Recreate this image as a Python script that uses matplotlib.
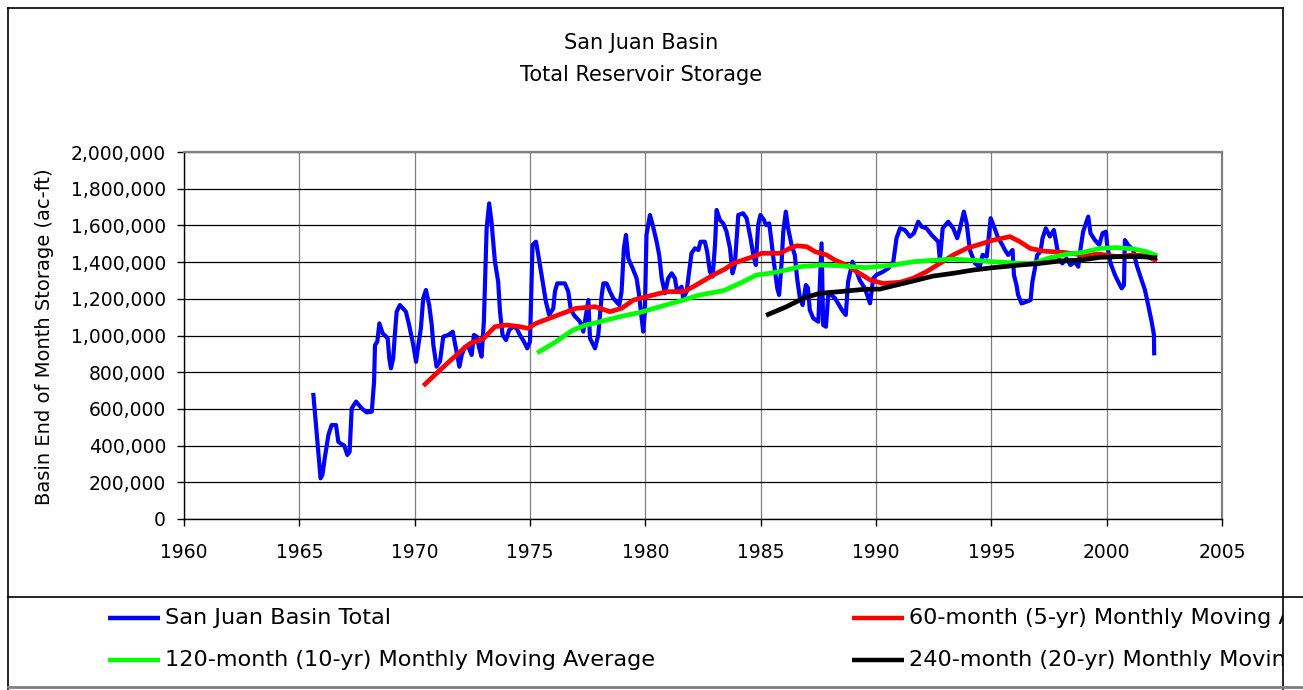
import numpy as np
import matplotlib
matplotlib.use('Agg')
import matplotlib.pyplot as plt
from matplotlib.lines import Line2D
from matplotlib.ticker import FuncFormatter

plt.rcParams['font.family'] = ['DejaVu Sans']

# San Juan Basin total storage (decimal year, thousand ac-ft)
total_yr = [1965.61, 1965.92, 1966.00, 1966.10, 1966.26, 1966.40, 1966.59, 1966.69, 1966.83, 1966.95,
            1967.08, 1967.18, 1967.27, 1967.46, 1967.70, 1967.92, 1968.14, 1968.24, 1968.28, 1968.38,
            1968.47, 1968.61, 1968.83, 1968.90, 1968.97, 1969.07, 1969.14, 1969.22, 1969.36, 1969.62,
            1969.76, 1969.94, 1970.06, 1970.16, 1970.27, 1970.37, 1970.49, 1970.63, 1970.74, 1970.81,
            1970.95, 1971.10, 1971.24, 1971.46, 1971.65, 1971.79, 1971.94, 1972.04, 1972.18, 1972.33,
            1972.47, 1972.57, 1972.69, 1972.80, 1972.90, 1973.00, 1973.12, 1973.23, 1973.33, 1973.48,
            1973.62, 1973.70, 1973.81, 1973.96, 1974.10, 1974.27, 1974.42, 1974.56, 1974.74, 1974.88,
            1975.00, 1975.11, 1975.26, 1975.36, 1975.50, 1975.69, 1975.83, 1976.01, 1976.08, 1976.18,
            1976.51, 1976.66, 1976.76, 1976.90, 1977.17, 1977.31, 1977.53, 1977.60, 1977.82, 1977.96,
            1978.11, 1978.18, 1978.32, 1978.47, 1978.61, 1978.87, 1978.97, 1979.07, 1979.16, 1979.26,
            1979.45, 1979.62, 1979.73, 1979.84, 1979.91, 1979.98, 1980.05, 1980.20, 1980.32, 1980.49,
            1980.60, 1980.71, 1980.85, 1980.99, 1981.14, 1981.28, 1981.38, 1981.57, 1981.64, 1981.79,
            1981.90, 1982.00, 1982.15, 1982.30, 1982.39, 1982.58, 1982.68, 1982.80, 1982.92, 1983.02,
            1983.09, 1983.23, 1983.38, 1983.52, 1983.67, 1983.78, 1983.88, 1984.03, 1984.24, 1984.39,
            1984.56, 1984.68, 1984.79, 1984.89, 1984.99, 1985.14, 1985.23, 1985.37, 1985.47, 1985.57,
            1985.72, 1985.80, 1985.91, 1985.98, 1986.09, 1986.19, 1986.34, 1986.48, 1986.58, 1986.70,
            1986.82, 1986.96, 1987.05, 1987.13, 1987.28, 1987.50, 1987.64, 1987.71, 1987.83, 1987.93,
            1988.07, 1988.22, 1988.40, 1988.57, 1988.69, 1988.79, 1988.98, 1989.16, 1989.30, 1989.52,
            1989.74, 1989.88, 1990.02, 1990.31, 1990.53, 1990.75, 1990.89, 1991.04, 1991.25, 1991.47,
            1991.64, 1991.83, 1991.98, 1992.19, 1992.41, 1992.70, 1992.77, 1992.89, 1993.13, 1993.35,
            1993.52, 1993.64, 1993.81, 1993.93, 1994.07, 1994.29, 1994.50, 1994.62, 1994.80, 1994.97,
            1995.09, 1995.30, 1995.45, 1995.59, 1995.73, 1995.92, 1995.98, 1996.09, 1996.16, 1996.31,
            1996.52, 1996.70, 1996.78, 1996.89, 1996.99, 1997.13, 1997.22, 1997.36, 1997.54, 1997.71,
            1997.83, 1997.94, 1998.08, 1998.26, 1998.43, 1998.62, 1998.77, 1998.87, 1998.98, 1999.10,
            1999.20, 1999.30, 1999.49, 1999.68, 1999.82, 1999.97, 2000.02, 2000.17, 2000.36, 2000.50,
            2000.65, 2000.75, 2000.79, 2000.93, 2001.15, 2001.30, 2001.44, 2001.66, 2001.80, 2001.95,
            2002.05, 2002.06]
total_val = [676, 222, 240, 330, 458, 512, 512, 421, 408, 400,
             349, 366, 603, 640, 603, 581, 585, 748, 948, 966,
             1066, 1012, 985, 876, 821, 876, 1003, 1130, 1166, 1130,
             1057, 948, 857, 948, 1039, 1203, 1248, 1166, 1057, 948,
             830, 860, 994, 1003, 1021, 930, 830, 894, 939, 939,
             894, 1003, 994, 930, 885, 1075, 1584, 1720, 1620, 1402,
             1293, 1130, 1003, 975, 1030, 1048, 1039, 1003, 966, 930,
             966, 1493, 1511, 1439, 1330, 1184, 1112, 1148, 1239, 1284,
             1284, 1239, 1148, 1112, 1075, 1021, 1193, 985, 930, 1003,
             1221, 1284, 1284, 1239, 1203, 1166, 1239, 1475, 1548, 1420,
             1366, 1312, 1221, 1094, 1021, 1130, 1548, 1657, 1602, 1511,
             1439, 1312, 1230, 1312, 1339, 1312, 1239, 1266, 1203, 1239,
             1348, 1448, 1475, 1466, 1511, 1511, 1457, 1348, 1321, 1493,
             1684, 1630, 1610, 1566, 1475, 1339, 1384, 1657, 1666, 1639,
             1530, 1439, 1384, 1602, 1657, 1630, 1602, 1611, 1511, 1402,
             1257, 1221, 1402, 1566, 1675, 1584, 1493, 1439, 1312, 1203,
             1166, 1275, 1260, 1139, 1094, 1075, 1502, 1057, 1048, 1221,
             1221, 1203, 1166, 1130, 1112, 1293, 1402, 1348, 1300, 1257,
             1175, 1312, 1330, 1348, 1366, 1402, 1530, 1584, 1575, 1539,
             1557, 1620, 1593, 1584, 1548, 1511, 1411, 1584, 1620, 1584,
             1530, 1584, 1675, 1611, 1466, 1393, 1375, 1439, 1430, 1639,
             1602, 1530, 1500, 1466, 1439, 1466, 1330, 1275, 1221, 1175,
             1184, 1193, 1293, 1366, 1439, 1457, 1530, 1584, 1539, 1575,
             1493, 1411, 1393, 1420, 1384, 1402, 1375, 1475, 1566, 1611,
             1648, 1557, 1520, 1493, 1557, 1566, 1493, 1393, 1330, 1293,
             1257, 1275, 1520, 1493, 1466, 1384, 1330, 1248, 1166, 1075,
             1003, 903]

# 60-month moving average
ma60_yr = [1970.45, 1971.10, 1971.97, 1972.40, 1972.98, 1973.48, 1973.98, 1974.56, 1974.90, 1975.26,
           1975.84, 1976.42, 1977.00, 1977.82, 1978.47, 1978.97, 1979.48, 1980.35, 1980.93, 1981.65,
           1982.08, 1982.95, 1983.45, 1983.81, 1984.68, 1985.04, 1985.83, 1986.27, 1986.56, 1987.00,
           1987.36, 1987.86, 1988.22, 1988.72, 1989.16, 1989.52, 1989.74, 1990.31, 1991.04, 1991.61,
           1992.19, 1992.77, 1993.35, 1993.93, 1994.50, 1995.09, 1995.81, 1996.24, 1996.68, 1997.25,
           1998.12, 1998.98, 1999.71, 2000.43, 2001.15, 2001.73, 2002.09]
ma60_val = [735, 812, 912, 957, 983, 1048, 1057, 1048, 1039, 1066,
            1094, 1121, 1148, 1157, 1130, 1148, 1193, 1221, 1239, 1239,
            1266, 1330, 1362, 1393, 1430, 1448, 1448, 1475, 1489, 1484,
            1457, 1439, 1411, 1384, 1348, 1321, 1303, 1284, 1290, 1312,
            1348, 1393, 1439, 1475, 1497, 1520, 1539, 1511, 1475, 1460,
            1453, 1439, 1443, 1430, 1439, 1434, 1411]

# 120-month moving average
ma120_yr = [1975.40, 1976.01, 1976.44, 1976.87, 1977.37, 1978.03, 1978.90, 1979.77, 1980.63, 1981.50,
            1982.37, 1983.40, 1984.09, 1984.82, 1985.39, 1986.12, 1986.70, 1987.56, 1988.43, 1989.52,
            1990.02, 1990.75, 1991.61, 1992.48, 1993.35, 1994.22, 1995.09, 1996.24, 1996.81, 1997.54,
            1998.26, 1998.98, 1999.71, 2000.43, 2001.15, 2001.73, 2002.09]
ma120_val = [912, 957, 994, 1030, 1055, 1075, 1103, 1126, 1157, 1188,
             1221, 1245, 1284, 1330, 1339, 1357, 1375, 1384, 1380, 1370,
             1375, 1384, 1402, 1410, 1416, 1410, 1402, 1393, 1393, 1424,
             1443, 1453, 1475, 1479, 1472, 1457, 1439]

# 240-month moving average
ma240_yr = [1985.33, 1986.12, 1986.85, 1987.56, 1988.43, 1989.52, 1990.17, 1990.75, 1991.61, 1992.48,
            1993.35, 1994.22, 1995.09, 1996.24, 1997.10, 1997.97, 1998.84, 1999.71, 2000.58, 2001.44,
            2002.09]
ma240_val = [1115, 1157, 1203, 1230, 1239, 1252, 1253, 1271, 1297, 1324,
             1339, 1357, 1370, 1384, 1393, 1406, 1411, 1426, 1430, 1430,
             1424]

labels = ['San Juan Basin Total', '60-month (5-yr) Monthly Moving Average',
          '120-month (10-yr) Monthly Moving Average', '240-month (20-yr) Monthly Moving Average']

W, H = 1303, 690

def fx(x):
    return x / W

def fy(y):
    return 1 - y / H

fig = plt.figure(figsize=(W / 100, H / 100), dpi=100)
ax = fig.add_axes([fx(184), fy(519), fx(1222 - 184), (519 - 152) / H])

ax.plot(total_yr, np.array(total_val) * 1000, color='#0000FF', lw=3.0, zorder=3)
ax.plot(ma60_yr, np.array(ma60_val) * 1000, color='#FF0000', lw=3.4, zorder=4)
ax.plot(ma120_yr, np.array(ma120_val) * 1000, color='#00FF00', lw=3.4, zorder=4)
ax.plot(ma240_yr, np.array(ma240_val) * 1000, color='black', lw=3.4, zorder=4)

ax.set_xlim(1960, 2005)
ax.set_ylim(0, 2000000)
ax.set_xticks(np.arange(1960, 2006, 5))
ax.set_yticks(np.arange(0, 2000001, 200000))
ax.yaxis.set_major_formatter(FuncFormatter(lambda v, p: '{:,.0f}'.format(v)))
ax.tick_params(axis='both', direction='out', length=5, width=1, labelsize=13.5, colors='black')
ax.tick_params(axis='y', pad=8)
ax.tick_params(axis='x', pad=12)
ax.yaxis.grid(True, color='black', lw=0.9)
ax.xaxis.grid(True, color='#808080', lw=0.9)
ax.set_axisbelow(True)
for s in ['left', 'bottom']:
    ax.spines[s].set_color('black')
    ax.spines[s].set_linewidth(1)
for s in ['top', 'right']:
    ax.spines[s].set_color('#808080')
    ax.spines[s].set_linewidth(1.6)

fig.text(fx(641), fy(43), 'San Juan Basin', ha='center', va='center', fontsize=15)
fig.text(fx(641), fy(75), 'Total Reservoir Storage', ha='center', va='center', fontsize=15)
fig.text(fx(45), fy(337), 'Basin End of Month Storage (ac-ft)', rotation=90,
         ha='center', va='center', fontsize=14)

# chart border and legend box
for xs, ys, c, w in [([8, 8], [8, 690], 'black', 1.2),
                     ([8, 1283], [8, 8], 'black', 1.2),
                     ([1283, 1283], [8, 690], 'black', 1.2),
                     ([8, 1303], [597, 597], 'black', 1.2),
                     ([8, 1303], [687, 687], '#808080', 2.0)]:
    fig.add_artist(Line2D([fx(v) for v in xs], [fy(v) for v in ys], color=c, lw=w,
                          transform=fig.transFigure))

# legend, clipped at the chart border like the original
leg = fig.add_axes([fx(8), fy(686), fx(1283 - 8), (686 - 598) / H])
leg.set_xlim(8, 1283)
leg.set_ylim(686, 598)
leg.axis('off')
colors = ['#0000FF', '#FF0000', '#00FF00', 'black']
xpos = [108, 852, 108, 852]
ypos = [618, 618, 660, 660]
for lab, c, x0, y0 in zip(labels, colors, xpos, ypos):
    leg.plot([x0, x0 + 52], [y0, y0], color=c, lw=3.2, solid_capstyle='butt', clip_on=True)
    leg.text(x0 + 57, y0, lab, ha='left', va='center', fontsize=16.1, clip_on=True)

fig.savefig('out.png', dpi=100)
